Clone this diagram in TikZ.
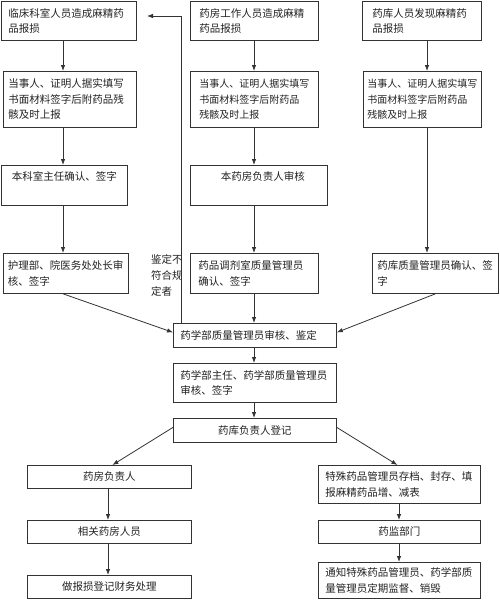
\documentclass[tikz,border=0pt]{standalone}
\usepackage{fontspec}
\newfontfamily\cjk{Noto Sans CJK SC}
\usetikzlibrary{arrows.meta}
\definecolor{linec}{HTML}{333333}
\definecolor{textc}{HTML}{222222}
\begin{document}
\begin{tikzpicture}[x=1pt,y=-1pt,
  box/.style={draw=linec, line width=0.8pt, anchor=north west, inner ysep=0pt,
    font=\cjk\fontsize{10.5}{15.5}\selectfont, text=textc},
  lbox/.style={box, align=left},
  cbox/.style={box, align=center, inner xsep=0pt},
  small/.style={font=\cjk\fontsize{10}{15.5}\selectfont},
  lbl/.style={inner sep=0pt, align=left, text=textc, font=\cjk\fontsize{10.5}{16}\selectfont},
  arr/.style={draw=linec, line width=0.8pt, -{Latex[length=6pt,width=4.5pt]}}]
\useasboundingbox (0,0) rectangle (500,600);
\coordinate (colL) at (63,0);
\coordinate (colM) at (254,0);
\coordinate (colR) at (427,0);
\coordinate (colP) at (108,0);
\coordinate (colS) at (399,0);
% row 1
\node[lbox, inner xsep=7pt, text width=121pt, minimum height=39pt] (L1) at (1,1) {临床科室人员造成麻精药\\品报损};
\node[lbox, inner xsep=9pt, text width=110pt, minimum height=39pt] (M1) at (190,1) {药房工作人员造成麻精\\药品报损};
\node[lbox, inner xsep=10pt, text width=99pt, minimum height=39pt] (R1) at (362,1) {药库人员发现麻精药\\品报损};
% row 2
\node[lbox, inner xsep=5pt, text width=123pt, minimum height=56pt] (L2) at (3,71) {当事人、证明人据实填写\\书面材料签字后附药品残\\骸及时上报};
\node[lbox, small, inner xsep=9pt, text width=110pt, minimum height=56pt] (M2) at (190,71) {当事人、证明人据实填写\\书面材料签字后附药品\\残骸及时上报};
\node[lbox, small, inner xsep=4pt, text width=110pt, minimum height=56pt] (R2) at (363,71) {当事人、证明人据实填写\\书面材料签字后附药品\\残骸及时上报};
% row 3
\node[cbox, minimum width=126pt, minimum height=40pt] (L3) at (1,165) {};
\node[lbl, anchor=north] (L3t) at ([yshift=-6.5pt]L3.north) {本科室主任确认、签字};
\node[cbox, minimum width=137pt, minimum height=40pt] (M3) at (190,165) {};
\node[lbl, anchor=north] (M3t) at ([yshift=-6.5pt,xshift=4pt]M3.north) {本药房负责人审核};
% row 4
\node[lbox, inner xsep=4.5pt, text width=116pt, minimum height=40pt] (L4) at (3,253) {护理部、院医务处处长审\\核、签字};
\node[lbox, inner xsep=8pt, text width=112pt, minimum height=40pt] (M4) at (190,253) {药品调剂室质量管理员\\确认、签字};
\node[lbox, inner xsep=5pt, text width=116pt, minimum height=40pt] (R4) at (372,253) {药库质量管理员确认、签\\字};
\node[lbl, anchor=north west] (note) at (151,254) {鉴定不\\符合规\\定者};
% center column
\node[lbox, inner xsep=7pt, text width=149pt, minimum height=24pt] (Q) at (173,323) {药学部质量管理员审核、鉴定};
\node[lbox, inner xsep=7pt, text width=149pt, minimum height=39pt] (D) at (173,363) {药学部主任、药学部质量管理员\\审核、签字};
\node[cbox, minimum width=163pt, minimum height=24pt] (K) at (173,418) {药库负责人登记};
% lower left
\node[cbox, minimum width=164pt, minimum height=23pt] (P1) at (27,465) {药房负责人};
\node[cbox, minimum width=164pt, minimum height=23pt] (P2) at (27,520) {相关药房人员};
\node[cbox, minimum width=164pt, minimum height=23pt] (P3) at (27,575) {做报损登记财务处理};
% lower right
\node[lbox, inner xsep=7pt, text width=148pt, minimum height=38pt] (S1) at (318,465) {特殊药品管理员存档、封存、填\\报麻精药品增、减表};
\node[cbox, minimum width=162pt, minimum height=23pt] (S2) at (318,520) {药监部门};
\node[lbox, inner xsep=7pt, text width=148pt, minimum height=36pt] (S3) at (318,562) {通知特殊药品管理员、药学部质\\量管理员定期监督、销毁};
% arrows
\draw[arr] (L1.south -| colL) -- (L2.north -| colL);
\draw[arr] (L2.south -| colL) -- (L3.north -| colL);
\draw[arr] (L3.south -| colL) -- (L4.north -| colL);
\draw[arr] (M1.south -| colM) -- (M2.north -| colM);
\draw[arr] (M2.south -| colM) -- (M3.north -| colM);
\draw[arr] (M3.south -| colM) -- (M4.north -| colM);
\draw[arr] (M4.south -| colM) -- (Q.north -| colM);
\draw[arr] (R1.south -| colR) -- (R2.north -| colR);
\draw[arr] (R2.south -| colR) -- (R4.north -| colR);
\draw[arr] (L4.south -| colL) -- ([yshift=3pt]Q.west);
\draw[arr] (R4.south) -- ([yshift=3pt]Q.east);
\draw[arr] (Q.south -| colM) -- (D.north -| colM);
\draw[arr] (D.south -| colM) -- (K.north -| colM);
\draw[arr] ([yshift=3pt]K.west) -- ([xshift=3pt]P1.north);
\draw[arr] ([yshift=3pt]K.east) -- ([xshift=-2pt]S1.north);
\draw[arr] (P1.south -| colP) -- (P2.north -| colP);
\draw[arr] (P2.south -| colP) -- (P3.north -| colP);
\draw[arr] (S1.south -| colS) -- (S2.north -| colS);
\draw[arr] (S2.south -| colS) -- (S3.north -| colS);
% feedback
\coordinate (fbtop) at (181.5,16);
\coordinate (fbend) at (147,16);
\draw[arr] (Q.north -| fbtop) -- (fbtop) -- (fbend);
\end{tikzpicture}
\end{document}
